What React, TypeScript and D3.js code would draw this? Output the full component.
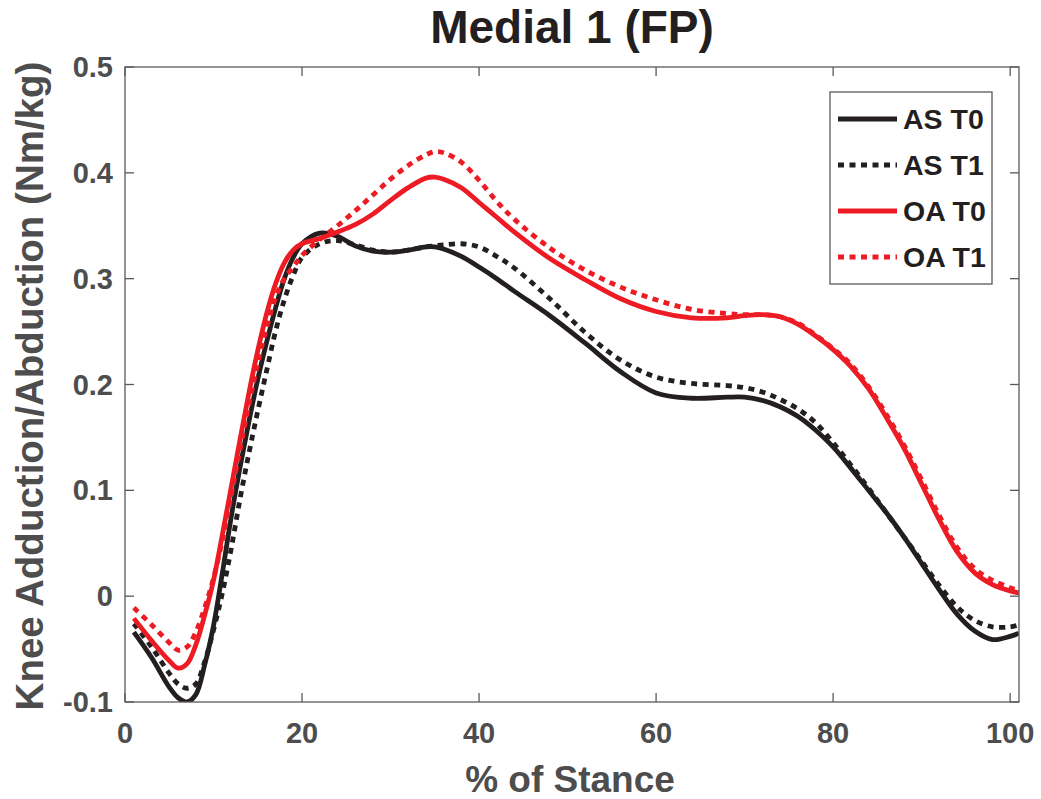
import React from "react";
import * as d3 from "d3";

const title = "Medial 1 (FP)";
const xLabel = "% of Stance";
const yLabel = "Knee Adduction/Abduction (Nm/kg)";

const xTicks = [0, 20, 40, 60, 80, 100];
const yTicks = [-0.1, 0, 0.1, 0.2, 0.3, 0.4, 0.5];
const yTickLabels = ["-0.1", "0", "0.1", "0.2", "0.3", "0.4", "0.5"];

const stance = [1, 3, 5, 6, 7, 8, 9, 10, 11, 12, 13, 14, 15, 16, 17, 18, 19, 20, 22, 24, 26, 28, 30, 32, 34, 35, 36, 38, 40, 42, 44, 48, 52, 56, 60, 64, 68, 70, 72, 74, 76, 78, 80, 82, 84, 86, 88, 90, 92, 94, 96, 98, 100, 101];

const asT0 = [-0.034, -0.058, -0.086, -0.096, -0.100, -0.093, -0.065, -0.028, 0.022, 0.075, 0.122, 0.165, 0.205, 0.240, 0.272, 0.300, 0.320, 0.333, 0.343, 0.340, 0.331, 0.326, 0.325, 0.327, 0.330, 0.330, 0.328, 0.321, 0.311, 0.300, 0.288, 0.265, 0.239, 0.212, 0.192, 0.187, 0.188, 0.188, 0.185, 0.179, 0.170, 0.157, 0.141, 0.121, 0.100, 0.079, 0.056, 0.031, 0.006, -0.017, -0.033, -0.041, -0.038, -0.035];

const asT1 = [-0.026, -0.048, -0.073, -0.083, -0.087, -0.083, -0.062, -0.032, 0.003, 0.045, 0.092, 0.135, 0.175, 0.213, 0.250, 0.280, 0.303, 0.320, 0.333, 0.336, 0.332, 0.327, 0.325, 0.327, 0.330, 0.331, 0.332, 0.333, 0.330, 0.321, 0.310, 0.281, 0.249, 0.223, 0.207, 0.201, 0.199, 0.197, 0.193, 0.186, 0.177, 0.164, 0.145, 0.124, 0.102, 0.079, 0.056, 0.033, 0.010, -0.010, -0.023, -0.029, -0.029, -0.027];

const oaT0 = [-0.021, -0.042, -0.061, -0.068, -0.064, -0.046, -0.018, 0.015, 0.058, 0.103, 0.148, 0.192, 0.232, 0.267, 0.295, 0.315, 0.327, 0.333, 0.338, 0.344, 0.351, 0.361, 0.374, 0.386, 0.395, 0.396, 0.394, 0.386, 0.372, 0.358, 0.344, 0.319, 0.299, 0.281, 0.269, 0.263, 0.263, 0.265, 0.266, 0.264, 0.257, 0.246, 0.233, 0.217, 0.196, 0.169, 0.140, 0.106, 0.072, 0.042, 0.022, 0.011, 0.005, 0.003];

const oaT1 = [-0.011, -0.027, -0.044, -0.051, -0.048, -0.034, -0.011, 0.017, 0.053, 0.095, 0.139, 0.181, 0.220, 0.254, 0.282, 0.300, 0.311, 0.322, 0.337, 0.350, 0.364, 0.379, 0.394, 0.407, 0.417, 0.420, 0.419, 0.410, 0.393, 0.373, 0.356, 0.329, 0.308, 0.292, 0.280, 0.271, 0.267, 0.266, 0.266, 0.264, 0.258, 0.247, 0.234, 0.219, 0.198, 0.172, 0.143, 0.110, 0.076, 0.046, 0.026, 0.015, 0.008, 0.005];

const seriesNames = ["AS T0", "AS T1", "OA T0", "OA T1"];
const seriesValues = [asT0, asT1, oaT0, oaT1];

const BLACK = "#231f20";
const RED = "#ed1c24";
const GRAY = "#4d4d4d";
const AXIS = "#5a5a5a";
const seriesColors = [BLACK, BLACK, RED, RED];
const seriesDash = [null, "6,5.5", null, "6,5.5"];

const W = 1041;
const H = 799;
const L = 125, R = 1019, T = 67, B = 702;
const FONT = "'Liberation Sans', Arial, Helvetica, sans-serif";

export default function App() {
  const x = d3.scaleLinear().domain([0, 101]).range([L, R]);
  const y = d3.scaleLinear().domain([-0.1, 0.5]).range([B, T]);
  const line = d3
    .line<[number, number]>()
    .x((d) => x(d[0]))
    .y((d) => y(d[1]))
    .curve(d3.curveCatmullRom.alpha(0.5));

  const tickLen = 9;
  const legX = 830, legY = 92, legW = 162, legH = 192;
  const rowY = (i: number) => 119 + i * 46;

  return (
    <svg
      width={W}
      height={H}
      style={{ position: "absolute", left: 0, top: 0, display: "block", background: "#fff" }}
      fontFamily={FONT}
    >
      <defs>
        <clipPath id="plotClip">
          <rect x={L} y={T} width={R - L} height={B - T} />
        </clipPath>
      </defs>
      <rect x={0} y={0} width={W} height={H} fill="#fff" />

      <g clipPath="url(#plotClip)">
        {seriesValues.map((vals, i) => (
          <path
            key={seriesNames[i]}
            d={line(stance.map((s, j) => [s, vals[j]] as [number, number])) || ""}
            fill="none"
            stroke={seriesColors[i]}
            strokeWidth={4.8}
            strokeDasharray={seriesDash[i] || undefined}
            strokeLinejoin="round"
          />
        ))}
      </g>

      <rect x={L} y={T} width={R - L} height={B - T} fill="none" stroke={AXIS} strokeWidth={1.3} />
      {xTicks.map((t) => (
        <g key={"xt" + t}>
          <line x1={x(t)} x2={x(t)} y1={B} y2={B - tickLen} stroke={AXIS} strokeWidth={1.3} />
          <line x1={x(t)} x2={x(t)} y1={T} y2={T + tickLen} stroke={AXIS} strokeWidth={1.3} />
          <text x={x(t)} y={743} textAnchor="middle" fontSize={29} fontWeight="bold" fill={GRAY}>
            {t}
          </text>
        </g>
      ))}
      {yTicks.map((t, i) => (
        <g key={"yt" + t}>
          <line x1={L} x2={L + tickLen} y1={y(t)} y2={y(t)} stroke={AXIS} strokeWidth={1.3} />
          <line x1={R} x2={R - tickLen} y1={y(t)} y2={y(t)} stroke={AXIS} strokeWidth={1.3} />
          <text x={113} y={y(t) + 10} textAnchor="end" fontSize={29} fontWeight="bold" fill={GRAY}>
            {yTickLabels[i]}
          </text>
        </g>
      ))}

      <text x={572} y={43} textAnchor="middle" fontSize={46} fontWeight="bold" fill={BLACK}>
        {title}
      </text>
      <text x={570} y={792} textAnchor="middle" fontSize={37} fontWeight="bold" fill={GRAY}>
        {xLabel}
      </text>
      <text
        transform={`translate(43, ${386}) rotate(-90)`}
        textAnchor="middle"
        fontSize={38.5}
        fontWeight="bold"
        fill={GRAY}
      >
        {yLabel}
      </text>

      <rect x={legX} y={legY} width={legW} height={legH} fill="#fff" stroke={AXIS} strokeWidth={1.3} />
      {seriesNames.map((n, i) => (
        <g key={"lg" + n}>
          <line
            x1={838}
            x2={897}
            y1={rowY(i)}
            y2={rowY(i)}
            stroke={seriesColors[i]}
            strokeWidth={4.8}
            strokeDasharray={seriesDash[i] || undefined}
          />
          <text x={903} y={rowY(i) + 10} fontSize={28.5} fontWeight="bold" fill={BLACK}>
            {n}
          </text>
        </g>
      ))}
    </svg>
  );
}
